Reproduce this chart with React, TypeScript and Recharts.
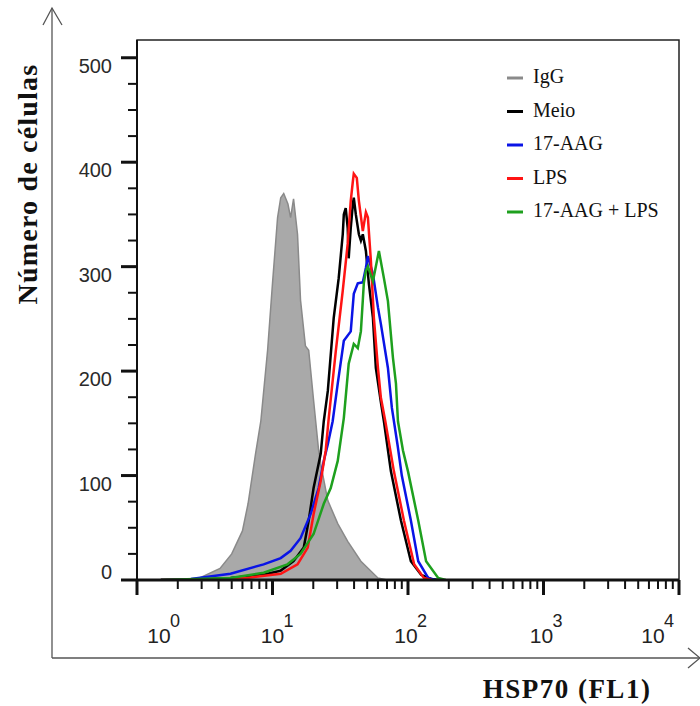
import React from "react";
import {
  ComposedChart,
  Area,
  Line,
  XAxis,
  YAxis,
  Legend,
  ReferenceArea,
} from "recharts";

// FL1 intensity (x) and cell count (y) for each histogram
const iggFl1 = [1.5, 2.1, 2.9, 4.1, 5.0, 6.0, 6.6, 7.5, 8.2, 9.2, 10.0, 10.9, 11.5, 12.1, 13.0, 13.6, 14.3, 15.3, 16.1, 17.5, 18.5, 20.1, 21.9, 22.7, 25.6, 30.3, 35.9, 44.9, 60, 70];
const iggCount = [0, 0.5, 2, 11, 25, 47, 73, 121, 152, 220, 284, 347, 366, 370, 360, 347, 365, 331, 268, 224, 220, 172, 124, 111, 76, 54, 37, 18, 2, 0];

const meioFl1 = [1.5, 2.8, 4.9, 8.6, 11.5, 14.3, 17.0, 18.5, 20.1, 22.7, 23.9, 25.6, 28.3, 30.8, 33.0, 33.6, 34.7, 35.9, 36.5, 37.8, 39.2, 39.8, 41.2, 43.4, 44.9, 46.4, 48.9, 51.4, 55.1, 57.9, 63.1, 66.4, 74.8, 88.7, 105, 125, 148, 170];
const meioCount = [0, 0.5, 2, 5, 9, 18, 31, 57, 88, 121, 152, 181, 251, 289, 331, 350, 356, 337, 308, 337, 360, 366, 350, 331, 325, 331, 315, 284, 251, 203, 170, 152, 104, 57, 18, 5, 1, 0];

const aagFl1 = [1.5, 2.5, 4.9, 8.6, 11.5, 13.6, 16.1, 19.1, 21.9, 23.9, 25.6, 27.8, 30.3, 33.6, 37.8, 39.8, 42.6, 46.4, 48.9, 50.6, 55.1, 60.0, 63.1, 71.1, 76.0, 84.0, 90.0, 105, 119, 141, 160];
const aagCount = [0, 1, 6, 15, 21, 28, 40, 63, 88, 114, 130, 152, 188, 229, 238, 274, 284, 285, 299, 310, 293, 261, 245, 203, 165, 128, 100, 57, 18, 2, 0];

const lpsFl1 = [1.5, 3.0, 6.5, 11.5, 15.3, 18.2, 20.1, 22.7, 24.7, 26.0, 29.3, 33.0, 35.9, 37.8, 39.2, 39.8, 41.9, 43.4, 46.4, 48.9, 50.6, 53.2, 56.0, 60.0, 63.0, 68.0, 78.7, 93.3, 111, 131, 150];
const lpsCount = [0, 0.5, 2, 6, 15, 31, 63, 95, 124, 155, 219, 277, 322, 363, 382, 389, 385, 363, 334, 352, 347, 306, 251, 203, 175, 152, 104, 57, 15, 2, 0];

const comboFl1 = [1.5, 4.9, 8.6, 12.9, 16.1, 20.1, 23.9, 26.9, 30.3, 33.6, 36.5, 39.8, 42.6, 44.9, 46.4, 47.2, 48.9, 50.6, 55.1, 61.0, 66.4, 71.1, 77.4, 81.5, 84.3, 91.8, 100, 119, 136, 167, 190];
const comboCount = [0, 2, 7, 15, 25, 44, 73, 88, 114, 155, 207, 226, 222, 238, 268, 284, 296, 300, 286, 315, 289, 267, 213, 188, 152, 124, 104, 57, 18, 2, 0];

const xTicks = [
  1, 2, 3, 4, 5, 6, 7, 8, 9,
  10, 20, 30, 40, 50, 60, 70, 80, 90,
  100, 200, 300, 400, 500, 600, 700, 800, 900,
  1000, 2000, 3000, 4000, 5000, 6000, 7000, 8000, 9000,
  10000,
];
const xMajor = [1, 10, 100, 1000, 10000];
const xExponents = ["0", "1", "2", "3", "4"];

const yTicks = [0, 25, 50, 75, 100, 125, 150, 175, 200, 225, 250, 275, 300, 325, 350, 375, 400, 425, 450, 475, 500];

const series = [
  { key: "igg", name: "IgG", fl1: iggFl1, count: iggCount, color: "#8a8a8a" },
  { key: "meio", name: "Meio", fl1: meioFl1, count: meioCount, color: "#000000" },
  { key: "aag", name: "17-AAG", fl1: aagFl1, count: aagCount, color: "#0a14e6" },
  { key: "lps", name: "LPS", fl1: lpsFl1, count: lpsCount, color: "#ff1414" },
  { key: "combo", name: "17-AAG + LPS", fl1: comboFl1, count: comboCount, color: "#1ea01e" },
];

// one table keyed by fl1, every series fills its own column
const rows = (() => {
  const byX = new Map<number, any>();
  series.forEach((s) =>
    s.fl1.forEach((x, i) => {
      const row = byX.get(x) ?? { fl1: x };
      row[s.key] = s.count[i];
      byX.set(x, row);
    })
  );
  return [...byX.values()].sort((a, b) => a.fl1 - b.fl1);
})();

const SANS = "'Liberation Sans', Arial, sans-serif";
const SERIF = "'Liberation Serif', 'Times New Roman', serif";

const XTick = ({ x, y, payload }: any) => {
  const idx = xMajor.indexOf(payload.value);
  if (idx < 0) {
    return <line x1={x} x2={x} y1={y} y2={y + 9} stroke="#111" strokeWidth={2} />;
  }
  const dx = [22, 0, -2, -2, -26][idx];
  return (
    <g>
      <line x1={x} x2={x} y1={y} y2={y + 15} stroke="#111" strokeWidth={3} />
      <text x={x + dx} y={y + 63} textAnchor="middle" fontFamily={SANS} fontSize={21} fill="#222">
        10
      </text>
      <text x={x + dx + 11} y={y + 47} fontFamily={SANS} fontSize={18} fill="#222">
        {xExponents[idx]}
      </text>
    </g>
  );
};

const YTick = ({ x, y, payload }: any) => {
  const v = payload.value;
  const major = v % 100 === 0;
  return (
    <g>
      <line x1={x - (major ? 16 : 9)} x2={x} y1={y} y2={y} stroke="#111" strokeWidth={major ? 3 : 2} />
      {major && (
        <text x={x - 25} y={y + (v === 0 ? -1 : 15)} textAnchor="end" fontFamily={SANS} fontSize={20} fill="#2a2a2a">
          {v}
        </text>
      )}
    </g>
  );
};

const LegendBox = () => (
  <svg width={190} height={170}>
    {series.map((s, i) => (
      <g key={s.key}>
        <line x1={7} x2={23} y1={18 + i * 33.5} y2={18 + i * 33.5} stroke={s.color} strokeWidth={3} />
        <text x={33} y={23 + i * 33.5} fontFamily={SERIF} fontSize={20} fill="#111">
          {s.name}
        </text>
      </g>
    ))}
  </svg>
);

const Decorations = () => (
  <g>
    <line x1={52} y1={8} x2={52} y2={658} stroke="#555" strokeWidth={1.3} />
    <polyline points="43,25 52,8 62,25" fill="none" stroke="#555" strokeWidth={1.3} />
    <line x1={52} y1={658} x2={700} y2={658} stroke="#555" strokeWidth={1.3} />
    <polyline points="688,648 700,658 688,668" fill="none" stroke="#555" strokeWidth={1.3} />
    <text
      x={37}
      y={184}
      transform="rotate(-90, 37, 184)"
      textAnchor="middle"
      fontFamily={SERIF}
      fontWeight="bold"
      fontSize={28}
      letterSpacing={1.2}
      fill="#111"
    >
      Número de células
    </text>
    <text x={567} y={698} textAnchor="middle" fontFamily={SERIF} fontWeight="bold" fontSize={27} letterSpacing={1.5} fill="#111">
      HSP70 (FL1)
    </text>
  </g>
);

export default function App() {
  return (
    <div style={{ position: "absolute", left: 0, top: 0, background: "#fff" }}>
      <ComposedChart
        width={700}
        height={706}
        data={rows}
        margin={{ top: 40, right: 21, bottom: 66, left: 57 }}
      >
        <XAxis
          dataKey="fl1"
          type="number"
          scale="log"
          domain={[1, 10000]}
          allowDataOverflow
          ticks={xTicks}
          interval={0}
          height={60}
          tickSize={0}
          tickMargin={0}
          tickLine={false}
          tick={<XTick />}
          axisLine={{ stroke: "#111", strokeWidth: 3 }}
        />
        <YAxis
          type="number"
          domain={[0, 517]}
          allowDataOverflow
          ticks={yTicks}
          interval={0}
          width={80}
          tickSize={0}
          tickMargin={0}
          tickLine={false}
          tick={<YTick />}
          axisLine={{ stroke: "#111", strokeWidth: 2 }}
        />
        <ReferenceArea x1={1} x2={10000} y1={0} y2={517} fill="none" stroke="#222" strokeWidth={1.5} />
        <Area
          dataKey="igg"
          name="IgG"
          type="linear"
          connectNulls
          fill="#a9a9a9"
          fillOpacity={1}
          stroke="#8a8a8a"
          strokeWidth={1.5}
          isAnimationActive={false}
        />
        {series.slice(1).map((s) => (
          <Line
            key={s.key}
            dataKey={s.key}
            name={s.name}
            type="linear"
            connectNulls
            stroke={s.color}
            strokeWidth={2.5}
            dot={false}
            isAnimationActive={false}
          />
        ))}
        <Legend
          layout="vertical"
          align="center"
          verticalAlign="middle"
          wrapperStyle={{ left: 500, top: 60, width: 190, height: 170 }}
          content={<LegendBox />}
        />
        <Decorations />
      </ComposedChart>
    </div>
  );
}
